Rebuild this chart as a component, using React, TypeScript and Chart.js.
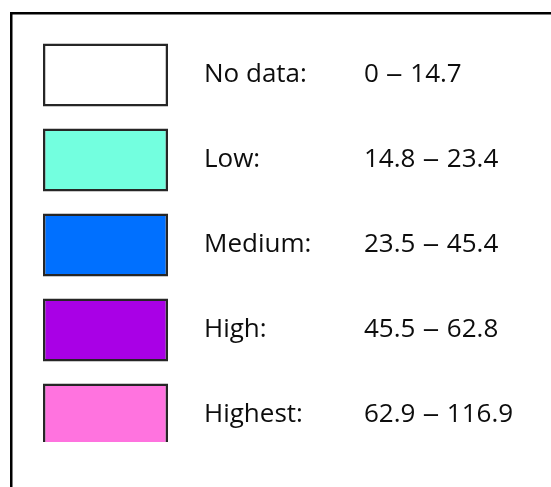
import React, { useRef, useEffect } from 'react';
import Chart from 'chart.js/auto';

// Legend classes, their ranges and fill colours
const categories = ['No data:', 'Low:', 'Medium:', 'High:', 'Highest:'];
const ranges = ['0 – 14.7', '14.8 – 23.4', '23.5 – 45.4', '45.5 – 62.8', '62.9 – 116.9'];
const boxValues = [1, 1, 1, 1, 1];
const colors = ['#FFFFFF', '#73FFDF', '#0070FF', '#A900E6', '#FF73DF'];

const W = 551;
const H = 487;

const legendText = {
  id: 'legendText',
  beforeDraw(chart: any) {
    const { ctx } = chart;
    ctx.save();
    ctx.fillStyle = '#ffffff';
    ctx.fillRect(0, 0, chart.width, chart.height);
    // frame (only top and left edges are visible in the crop)
    ctx.fillStyle = '#000000';
    ctx.fillRect(10, 12, chart.width - 10, 2.5);
    ctx.fillRect(10, 12, 2.5, chart.height - 12);
    ctx.restore();
  },
  afterDatasetsDraw(chart: any) {
    const { ctx, chartArea } = chart;
    const yScale = chart.scales.y;
    ctx.save();
    ctx.fillStyle = '#0d0d0d';
    ctx.textBaseline = 'alphabetic';
    ctx.textAlign = 'left';
    ctx.font = '26px "Open Sans"';
    categories.forEach((label, i) => {
      const y = yScale.getPixelForValue(i) + 7;
      ctx.fillText(label, chartArea.right + 36, y);

      // range: draw the parts separately so the dash gets Calibri-like width
      const [lo, dash, hi] = ranges[i].split(' ');
      let x = chartArea.right + 196;
      ctx.fillText(lo, x, y);
      x += ctx.measureText(lo).width + 7;
      ctx.save();
      ctx.translate(x, y);
      ctx.scale(1.3, 1);
      ctx.fillText(dash, 0, 0);
      ctx.restore();
      x += ctx.measureText(dash).width * 1.3 + 7.5;
      ctx.fillText(hi, x, y);
    });
    ctx.restore();
  },
};

const App: React.FC = () => {
  const canvasRef = useRef<HTMLCanvasElement | null>(null);

  useEffect(() => {
    if (!canvasRef.current) return;
    const chart = new Chart(canvasRef.current, {
      type: 'bar',
      data: {
        labels: categories,
        datasets: [
          {
            data: boxValues,
            backgroundColor: colors,
            borderColor: '#262626',
            borderWidth: 2.5,
            borderSkipped: false,
            categoryPercentage: 1,
            barPercentage: 0.74,
            clip: { left: 5, right: 5, top: 5, bottom: -15.5 },
          },
        ],
      },
      options: {
        indexAxis: 'y',
        animation: false,
        responsive: false,
        devicePixelRatio: 1,
        layout: { padding: { left: 43, right: 383, top: 32.5, bottom: 29.5 } },
        plugins: {
          legend: { display: false },
          tooltip: { enabled: false },
        },
        scales: {
          x: { display: false, min: 0, max: 1 },
          y: { display: false },
        },
      },
      plugins: [legendText],
    });
    return () => chart.destroy();
  }, []);

  return (
    <div style={{ position: 'fixed', left: 0, top: 0, width: W, height: H, background: '#fff' }}>
      <canvas ref={canvasRef} width={W} height={H} style={{ width: W, height: H, display: 'block' }}></canvas>
    </div>
  );
};

export default App;
